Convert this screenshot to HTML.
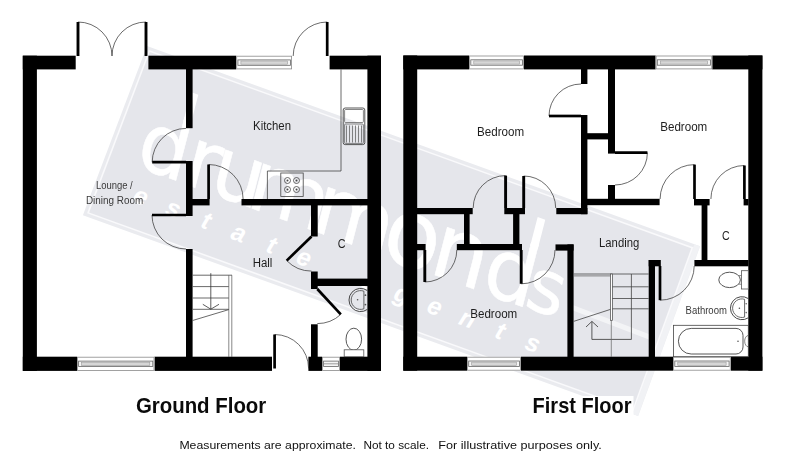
<!DOCTYPE html>
<html lang="en"><head><meta charset="utf-8"><title>Floor plan</title>
<style>
html,body{margin:0;padding:0;background:#fff;}
body{width:785px;height:463px;overflow:hidden;}
svg{display:block;font-family:"Liberation Sans",sans-serif;}
</style></head><body>
<svg width="785" height="463" viewBox="0 0 785 463">
<rect width="785" height="463" fill="#fff"/>
<polygon points="147.0,46.0 700.0,246.3 638.1,416.1 82.9,215.2" fill="#eaebef"/>
<polygon points="694.4,244.3 700.0,246.3 638.1,416.1 632.4,414.1" fill="#f1f2f5"/>
<polygon points="148.9,50.1 693.3,247.3 633.5,411.0 87.1,213.3" fill="#f9f9fb"/>
<polygon points="149.8,52.1 691.2,248.2 632.6,409.0 89.1,212.4" fill="#e5e6eb"/>
<g transform="translate(147.0,46.0) rotate(20.0)">
<g transform="translate(24.5,116.6) skewX(5.5)"><text font-family="DejaVu Sans, sans-serif" fill="#fff" stroke="#fff" stroke-width="0.5" stroke-linejoin="round"><tspan x="4.0" y="0.0" font-size="82">d</tspan><tspan x="53.9" y="0.0" font-size="84">r</tspan><tspan x="82.2" y="0.0" font-size="84">u</tspan><tspan x="121.9" y="0.0" font-size="84">m</tspan><tspan x="190.9" y="0.0" font-size="84">m</tspan><tspan x="265.1" y="1.9" font-size="94">o</tspan><tspan x="316.3" y="0.2" font-size="90">n</tspan><tspan x="371.9" y="0.2" font-size="84">d</tspan><tspan x="417.6" y="-1.1" font-size="74">s</tspan></text><rect x="41.0" y="-88.3" width="7.9" height="30" fill="#fff"/><rect x="409.7" y="-89.6" width="8.1" height="30" fill="#fff"/></g>
<g transform="rotate(0.55 47.9 150)">
<text x="45.5 80.4 115.3 150.2 185.1 220.0 254.9 289.8 324.7 359.6 394.5 429.4 464.3" y="151.5" font-size="25" font-style="italic" font-weight="bold" fill="#fff" text-anchor="middle">estate agents</text>
</g>
</g>
<polygon points="569,303.5 654,336 654,341.5 569,309" fill="#fff" opacity="0.55"/>
<rect x="22.8" y="55.7" width="14.1" height="315.2" fill="#000"/>
<rect x="367.4" y="55.7" width="13.6" height="315.2" fill="#000"/>
<rect x="22.8" y="55.7" width="52.9" height="13.7" fill="#000"/>
<rect x="148.4" y="55.7" width="87.9" height="13.7" fill="#000"/>
<rect x="329.6" y="55.7" width="51.4" height="13.7" fill="#000"/>
<rect x="22.8" y="356.7" width="54.2" height="14.2" fill="#000"/>
<rect x="154.4" y="356.7" width="117.6" height="14.2" fill="#000"/>
<rect x="308.4" y="356.7" width="13.6" height="14.2" fill="#000"/>
<rect x="340.0" y="356.7" width="41.0" height="14.2" fill="#000"/>
<rect x="236.3" y="55.7" width="55.7" height="13.7" fill="#fff"/>
<rect x="236.7" y="56.2" width="54.9" height="12.7" fill="#fff" stroke="#8a8a8a" stroke-width="0.8"/>
<rect x="237.9" y="59.9" width="52.5" height="5.4" fill="#f4f4f4" stroke="#666" stroke-width="0.8"/>
<rect x="240.9" y="61.0" width="46.5" height="3.2" fill="#d6d6d6" stroke="#999" stroke-width="0.6"/>
<rect x="77.0" y="356.7" width="77.4" height="14.2" fill="#fff"/>
<rect x="77.4" y="357.2" width="76.6" height="13.2" fill="#fff" stroke="#8a8a8a" stroke-width="0.8"/>
<rect x="78.6" y="361.1" width="74.2" height="5.4" fill="#f4f4f4" stroke="#666" stroke-width="0.8"/>
<rect x="81.6" y="362.2" width="68.2" height="3.2" fill="#d6d6d6" stroke="#999" stroke-width="0.6"/>
<rect x="322.0" y="356.7" width="18.0" height="14.2" fill="#fff"/>
<rect x="322.4" y="357.2" width="17.2" height="13.2" fill="#fff" stroke="#8a8a8a" stroke-width="0.8"/>
<rect x="323.6" y="361.1" width="14.8" height="5.4" fill="#f4f4f4" stroke="#666" stroke-width="0.8"/>
<line x1="324.0" y1="363.8" x2="338.0" y2="363.8" stroke="#888" stroke-width="0.8"/>
<rect x="186.0" y="69.0" width="6.6" height="59.2" fill="#000"/>
<rect x="186.0" y="161.0" width="6.6" height="55.0" fill="#000"/>
<rect x="186.0" y="249.0" width="6.6" height="108.0" fill="#000"/>
<rect x="192.0" y="199.0" width="17.6" height="6.4" fill="#000"/>
<rect x="241.5" y="199.0" width="126.5" height="6.4" fill="#000"/>
<rect x="311.0" y="205.0" width="6.7" height="31.5" fill="#000"/>
<rect x="311.0" y="271.5" width="6.7" height="17.5" fill="#000"/>
<rect x="311.0" y="324.3" width="6.7" height="32.7" fill="#000"/>
<rect x="311.0" y="278.6" width="57.0" height="7.4" fill="#000"/>
<path d="M78.0,22.0 A34,34 0 0 1 112.0,56.0" stroke="#3a3a3a" stroke-width="0.75" fill="none"/>
<line x1="78.0" y1="56.0" x2="78.0" y2="22.0" stroke="#000" stroke-width="2.9"/>
<path d="M146.0,22.0 A34,34 0 0 0 112.0,56.0" stroke="#3a3a3a" stroke-width="0.75" fill="none"/>
<line x1="146.0" y1="56.0" x2="146.0" y2="22.0" stroke="#000" stroke-width="2.9"/>
<path d="M327.2,22.0 A34,34 0 0 0 293.2,56.0" stroke="#3a3a3a" stroke-width="0.75" fill="none"/>
<line x1="327.2" y1="56.0" x2="327.2" y2="22.0" stroke="#000" stroke-width="2.6999999999999997"/>
<path d="M152.2,162.2 A33.8,33.8 0 0 1 186.0,128.4" stroke="#3a3a3a" stroke-width="0.75" fill="none"/>
<line x1="186.0" y1="162.2" x2="152.2" y2="162.2" stroke="#000" stroke-width="2.6999999999999997"/>
<path d="M152.0,215.0 A34,34 0 0 0 186.0,249.0" stroke="#3a3a3a" stroke-width="0.75" fill="none"/>
<line x1="186.0" y1="215.0" x2="152.0" y2="215.0" stroke="#000" stroke-width="2.6999999999999997"/>
<path d="M208.6,164.5 A34.5,34.5 0 0 1 243.1,199.0" stroke="#3a3a3a" stroke-width="0.75" fill="none"/>
<line x1="208.6" y1="199.0" x2="208.6" y2="164.5" stroke="#000" stroke-width="2.6999999999999997"/>
<path d="M286.7,260.6 A34.6,34.6 0 0 0 311.5,271.1" stroke="#3a3a3a" stroke-width="0.75" fill="none"/>
<line x1="311.5" y1="236.5" x2="286.7" y2="260.6" stroke="#000" stroke-width="2.6999999999999997"/>
<path d="M340.8,314.4 A34.6,34.6 0 0 1 317.3,323.6" stroke="#3a3a3a" stroke-width="0.75" fill="none"/>
<line x1="317.3" y1="289.0" x2="340.8" y2="314.4" stroke="#000" stroke-width="2.6999999999999997"/>
<path d="M274.6,334.5 A34,34 0 0 1 308.6,368.5" stroke="#3a3a3a" stroke-width="0.75" fill="none"/>
<line x1="274.6" y1="368.5" x2="274.6" y2="334.5" stroke="#000" stroke-width="2.6999999999999997"/>
<path d="M341,69.4 V171 H267.4 V199" stroke="#444" stroke-width="0.8" fill="none"/>
<rect x="343.2" y="108" width="21.6" height="36.6" rx="2" fill="none" stroke="#444" stroke-width="0.9"/>
<rect x="344.6" y="109.5" width="18.8" height="13" rx="1" fill="none" stroke="#555" stroke-width="0.7"/>
<line x1="346.5" y1="125.5" x2="346.5" y2="142.5" stroke="#555" stroke-width="0.7"/>
<line x1="349.5" y1="125.5" x2="349.5" y2="142.5" stroke="#555" stroke-width="0.7"/>
<line x1="352.5" y1="125.5" x2="352.5" y2="142.5" stroke="#555" stroke-width="0.7"/>
<line x1="355.5" y1="125.5" x2="355.5" y2="142.5" stroke="#555" stroke-width="0.7"/>
<line x1="358.5" y1="125.5" x2="358.5" y2="142.5" stroke="#555" stroke-width="0.7"/>
<line x1="361.5" y1="125.5" x2="361.5" y2="142.5" stroke="#555" stroke-width="0.7"/>
<rect x="344.6" y="124" width="18.8" height="19.4" rx="1" fill="none" stroke="#555" stroke-width="0.7"/>
<rect x="280.8" y="173" width="22.4" height="23.4" fill="none" stroke="#444" stroke-width="0.8"/>
<circle cx="287.5" cy="180.5" r="3" fill="none" stroke="#444" stroke-width="0.8"/><circle cx="287.5" cy="180.5" r="1" fill="#444"/>
<circle cx="296.5" cy="180.5" r="3" fill="none" stroke="#444" stroke-width="0.8"/><circle cx="296.5" cy="180.5" r="1" fill="#444"/>
<circle cx="287.5" cy="189.5" r="3" fill="none" stroke="#444" stroke-width="0.8"/><circle cx="287.5" cy="189.5" r="1" fill="#444"/>
<circle cx="296.5" cy="189.5" r="3" fill="none" stroke="#444" stroke-width="0.8"/><circle cx="296.5" cy="189.5" r="1" fill="#444"/>
<line x1="192.6" y1="275.2" x2="232.0" y2="275.2" stroke="#444" stroke-width="0.8"/>
<line x1="192.6" y1="286.6" x2="228.8" y2="286.6" stroke="#444" stroke-width="0.8"/>
<line x1="192.6" y1="298.0" x2="228.8" y2="298.0" stroke="#444" stroke-width="0.8"/>
<line x1="192.6" y1="309.3" x2="228.8" y2="309.3" stroke="#444" stroke-width="0.8"/>
<line x1="228.8" y1="275.2" x2="228.8" y2="357.0" stroke="#555" stroke-width="0.7"/>
<line x1="231.8" y1="275.2" x2="231.8" y2="357.0" stroke="#555" stroke-width="0.7"/>
<line x1="192.6" y1="320.5" x2="228.8" y2="309.6" stroke="#444" stroke-width="0.8"/>
<line x1="210.8" y1="273.2" x2="210.8" y2="309.2" stroke="#333" stroke-width="0.8"/>
<path d="M202.8,304.3 L210.8,309.2 L219,304.3" stroke="#333" stroke-width="0.8" fill="none"/>
<path d="M367.4,290.6 A11.6,11.6 0 1 0 367.4,309.4" stroke="#333" stroke-width="0.9" fill="none"/>
<path d="M363.9,291.2 A9.4,9.4 0 1 0 363.9,308.8 Z" stroke="#444" stroke-width="0.8" fill="none"/>
<circle cx="357.6" cy="299.8" r="0.8" fill="#555"/><circle cx="365.4" cy="295.2" r="0.9" fill="#555"/><circle cx="365.4" cy="304.6" r="0.9" fill="#555"/>
<ellipse cx="353.8" cy="339.2" rx="7.8" ry="11" fill="none" stroke="#444" stroke-width="0.9"/>
<rect x="344.2" y="349.8" width="19.6" height="6.9" fill="#fff" stroke="#555" stroke-width="0.8"/>
<rect x="403.3" y="55.5" width="13.9" height="315.2" fill="#000"/>
<rect x="748.3" y="55.5" width="14.1" height="315.2" fill="#000"/>
<rect x="403.3" y="55.5" width="65.9" height="13.9" fill="#000"/>
<rect x="524.0" y="55.5" width="131.7" height="13.9" fill="#000"/>
<rect x="712.2" y="55.5" width="50.2" height="13.9" fill="#000"/>
<rect x="403.3" y="356.7" width="63.8" height="14.0" fill="#000"/>
<rect x="521.0" y="356.7" width="152.2" height="14.0" fill="#000"/>
<rect x="730.7" y="356.7" width="31.7" height="14.0" fill="#000"/>
<rect x="469.2" y="55.5" width="54.8" height="13.9" fill="#fff"/>
<rect x="469.6" y="56.0" width="54.0" height="12.9" fill="#fff" stroke="#8a8a8a" stroke-width="0.8"/>
<rect x="470.8" y="59.8" width="51.6" height="5.4" fill="#f4f4f4" stroke="#666" stroke-width="0.8"/>
<rect x="473.8" y="60.9" width="45.6" height="3.2" fill="#d6d6d6" stroke="#999" stroke-width="0.6"/>
<rect x="655.7" y="55.5" width="56.5" height="13.9" fill="#fff"/>
<rect x="656.1" y="56.0" width="55.7" height="12.9" fill="#fff" stroke="#8a8a8a" stroke-width="0.8"/>
<rect x="657.3" y="59.8" width="53.3" height="5.4" fill="#f4f4f4" stroke="#666" stroke-width="0.8"/>
<rect x="660.3" y="60.9" width="47.3" height="3.2" fill="#d6d6d6" stroke="#999" stroke-width="0.6"/>
<rect x="467.1" y="356.7" width="53.9" height="14.0" fill="#fff"/>
<rect x="467.5" y="357.2" width="53.1" height="13.0" fill="#fff" stroke="#8a8a8a" stroke-width="0.8"/>
<rect x="468.7" y="361.0" width="50.7" height="5.4" fill="#f4f4f4" stroke="#666" stroke-width="0.8"/>
<rect x="471.7" y="362.1" width="44.7" height="3.2" fill="#d6d6d6" stroke="#999" stroke-width="0.6"/>
<rect x="673.2" y="356.7" width="57.5" height="14.0" fill="#fff"/>
<rect x="673.6" y="357.2" width="56.7" height="13.0" fill="#fff" stroke="#8a8a8a" stroke-width="0.8"/>
<rect x="674.8" y="361.0" width="54.3" height="5.4" fill="#f4f4f4" stroke="#666" stroke-width="0.8"/>
<rect x="677.8" y="362.1" width="48.3" height="3.2" fill="#d6d6d6" stroke="#999" stroke-width="0.6"/>
<rect x="581.0" y="69.0" width="6.4" height="15.0" fill="#000"/>
<rect x="581.0" y="115.0" width="6.4" height="99.2" fill="#000"/>
<rect x="587.0" y="133.2" width="21.5" height="6.2" fill="#000"/>
<rect x="608.0" y="69.0" width="7.0" height="84.6" fill="#000"/>
<rect x="608.0" y="185.0" width="7.0" height="14.0" fill="#000"/>
<rect x="587.0" y="198.8" width="72.6" height="6.4" fill="#000"/>
<rect x="417.0" y="208.0" width="55.7" height="6.2" fill="#000"/>
<rect x="504.3" y="208.0" width="20.7" height="6.2" fill="#000"/>
<rect x="556.3" y="208.0" width="31.1" height="6.2" fill="#000"/>
<rect x="464.0" y="214.0" width="5.6" height="36.0" fill="#000"/>
<rect x="513.1" y="214.0" width="6.3" height="36.0" fill="#000"/>
<rect x="417.0" y="244.0" width="8.6" height="6.2" fill="#000"/>
<rect x="456.8" y="244.0" width="65.2" height="6.2" fill="#000"/>
<rect x="555.5" y="244.4" width="18.1" height="6.2" fill="#000"/>
<rect x="567.4" y="244.4" width="6.2" height="112.6" fill="#000"/>
<rect x="694.0" y="199.0" width="15.6" height="6.4" fill="#000"/>
<rect x="743.6" y="199.0" width="4.9" height="6.4" fill="#000"/>
<rect x="701.6" y="205.0" width="5.8" height="61.0" fill="#000"/>
<rect x="694.4" y="260.0" width="54.1" height="6.3" fill="#000"/>
<rect x="648.7" y="260.0" width="6.3" height="97.0" fill="#000"/>
<rect x="648.7" y="260.0" width="12.1" height="6.3" fill="#000"/>
<path d="M549.0,116.0 A32,32 0 0 1 581.0,84.0" stroke="#3a3a3a" stroke-width="0.75" fill="none"/>
<line x1="581.0" y1="116.0" x2="549.0" y2="116.0" stroke="#000" stroke-width="2.6999999999999997"/>
<path d="M647.4,152.6 A32.4,32.4 0 0 1 615.0,185.0" stroke="#3a3a3a" stroke-width="0.75" fill="none"/>
<line x1="615.0" y1="152.6" x2="647.4" y2="152.6" stroke="#000" stroke-width="2.6999999999999997"/>
<path d="M523.7,176.0 A32,32 0 0 1 555.7,208.0" stroke="#3a3a3a" stroke-width="0.75" fill="none"/>
<line x1="523.7" y1="208.0" x2="523.7" y2="176.0" stroke="#000" stroke-width="2.9"/>
<path d="M505.6,175.6 A32.4,32.4 0 0 0 473.2,208.0" stroke="#3a3a3a" stroke-width="0.75" fill="none"/>
<line x1="505.6" y1="208.0" x2="505.6" y2="175.6" stroke="#000" stroke-width="2.9"/>
<path d="M424.8,282.0 A32,32 0 0 0 456.8,250.0" stroke="#3a3a3a" stroke-width="0.75" fill="none"/>
<line x1="424.8" y1="250.0" x2="424.8" y2="282.0" stroke="#000" stroke-width="2.9"/>
<path d="M521.2,283.8 A33.8,33.8 0 0 0 555.0,250.0" stroke="#3a3a3a" stroke-width="0.75" fill="none"/>
<line x1="521.2" y1="250.0" x2="521.2" y2="283.8" stroke="#000" stroke-width="2.9"/>
<path d="M694.5,164.6 A34.4,34.4 0 0 0 660.1,199.0" stroke="#3a3a3a" stroke-width="0.75" fill="none"/>
<line x1="694.5" y1="199.0" x2="694.5" y2="164.6" stroke="#000" stroke-width="2.6999999999999997"/>
<path d="M744.4,165.5 A33.5,33.5 0 0 0 710.9,199.0" stroke="#3a3a3a" stroke-width="0.75" fill="none"/>
<line x1="744.4" y1="199.0" x2="744.4" y2="165.5" stroke="#000" stroke-width="2.6999999999999997"/>
<path d="M660.0,300.2 A34.2,34.2 0 0 0 694.2,266.0" stroke="#3a3a3a" stroke-width="0.75" fill="none"/>
<line x1="660.0" y1="266.0" x2="660.0" y2="300.2" stroke="#000" stroke-width="2.6999999999999997"/>
<line x1="573.6" y1="274.0" x2="648.7" y2="274.0" stroke="#444" stroke-width="0.8"/>
<line x1="573.6" y1="275.9" x2="612.0" y2="275.9" stroke="#555" stroke-width="0.7"/>
<rect x="610.4" y="274" width="2" height="46.3" fill="#fff" stroke="#444" stroke-width="0.7"/>
<line x1="612.4" y1="286.8" x2="648.7" y2="286.8" stroke="#444" stroke-width="0.8"/>
<line x1="612.4" y1="298.5" x2="648.7" y2="298.5" stroke="#444" stroke-width="0.8"/>
<line x1="612.4" y1="308.8" x2="648.7" y2="308.8" stroke="#444" stroke-width="0.8"/>
<line x1="631.4" y1="274.0" x2="631.4" y2="339.4" stroke="#444" stroke-width="0.8"/>
<path d="M631.4,339.4 H591.9 V321.6" stroke="#333" stroke-width="0.8" fill="none"/>
<path d="M586,327 L591.9,321.4 L598,327" stroke="#333" stroke-width="0.8" fill="none"/>
<line x1="573.6" y1="321.4" x2="610.4" y2="309.4" stroke="#444" stroke-width="0.8"/>
<line x1="611.3" y1="320.0" x2="611.3" y2="357.0" stroke="#666" stroke-width="0.7"/>
<rect x="673.6" y="325.3" width="74.7" height="31.4" fill="none" stroke="#444" stroke-width="0.8"/>
<path d="M691.2,328.4 H736 A7,7 0 0 1 743,335.4 V347 A7,7 0 0 1 736,354 H691.2 A12.8,12.8 0 0 1 691.2,328.4 Z" stroke="#444" stroke-width="0.9" fill="none"/>
<circle cx="738" cy="341.2" r="0.8" fill="#555"/>
<path d="M748.3,335.5 A3.6,5.6 0 0 0 748.3,346.8" stroke="#555" stroke-width="0.7" fill="none"/>
<ellipse cx="729.6" cy="279.9" rx="10.8" ry="7.7" fill="none" stroke="#444" stroke-width="0.9"/>
<rect x="741.4" y="270.7" width="6.9" height="18.3" fill="#fff" stroke="#555" stroke-width="0.8"/>
<line x1="738.6" y1="275.6" x2="741.4" y2="275.6" stroke="#555" stroke-width="0.7"/>
<line x1="738.6" y1="284.2" x2="741.4" y2="284.2" stroke="#555" stroke-width="0.7"/>
<path d="M748.3,298.6 A11.5,11.5 0 1 0 748.3,317.8" stroke="#333" stroke-width="0.9" fill="none"/>
<path d="M744.6,299.3 A9.3,9.3 0 1 0 744.6,317.1 Z" stroke="#444" stroke-width="0.8" fill="none"/>
<circle cx="739.4" cy="308.2" r="0.8" fill="#555"/><circle cx="746.2" cy="303.8" r="0.8" fill="#666"/><circle cx="746.2" cy="312.6" r="0.8" fill="#666"/>
<rect x="526.0" y="396.0" width="107.5" height="21.0" fill="#fff"/>
<g style="filter:grayscale(1)">
<text x="253.1" y="130.3" font-size="12" font-weight="normal" fill="#1e1e1e" text-anchor="start" textLength="37.9" lengthAdjust="spacingAndGlyphs">Kitchen</text>
<text x="252.7" y="266.6" font-size="12" font-weight="normal" fill="#1e1e1e" text-anchor="start" textLength="19.7" lengthAdjust="spacingAndGlyphs">Hall</text>
<text x="337.8" y="247.9" font-size="12" font-weight="normal" fill="#1e1e1e" text-anchor="start" textLength="7.8" lengthAdjust="spacingAndGlyphs">C</text>
<text x="477.1" y="135.7" font-size="12" font-weight="normal" fill="#1e1e1e" text-anchor="start" textLength="47.1" lengthAdjust="spacingAndGlyphs">Bedroom</text>
<text x="660.2" y="130.9" font-size="12" font-weight="normal" fill="#1e1e1e" text-anchor="start" textLength="47.1" lengthAdjust="spacingAndGlyphs">Bedroom</text>
<text x="470.2" y="317.6" font-size="12" font-weight="normal" fill="#1e1e1e" text-anchor="start" textLength="47.1" lengthAdjust="spacingAndGlyphs">Bedroom</text>
<text x="599.0" y="246.6" font-size="12" font-weight="normal" fill="#1e1e1e" text-anchor="start" textLength="40.3" lengthAdjust="spacingAndGlyphs">Landing</text>
<text x="722.0" y="239.8" font-size="12" font-weight="normal" fill="#1e1e1e" text-anchor="start" textLength="7.7" lengthAdjust="spacingAndGlyphs">C</text>
<text x="95.9" y="188.5" font-size="10.2" font-weight="normal" fill="#3a3a3a" text-anchor="start" textLength="36.8" lengthAdjust="spacingAndGlyphs">Lounge /</text>
<text x="85.9" y="203.9" font-size="10.2" font-weight="normal" fill="#3a3a3a" text-anchor="start" textLength="57.3" lengthAdjust="spacingAndGlyphs">Dining Room</text>
<text x="685.6" y="314.3" font-size="10.2" font-weight="normal" fill="#3a3a3a" text-anchor="start" textLength="41.3" lengthAdjust="spacingAndGlyphs">Bathroom</text>
<text x="135.9" y="412.6" font-size="21.6" font-weight="bold" fill="#0a0a0a" text-anchor="start" textLength="130.4" lengthAdjust="spacingAndGlyphs">Ground Floor</text>
<text x="532.6" y="412.5" font-size="21.6" font-weight="bold" fill="#0a0a0a" text-anchor="start" textLength="98.9" lengthAdjust="spacingAndGlyphs">First Floor</text>
<text x="179.4" y="449.0" font-size="11.2" font-weight="normal" fill="#111" text-anchor="start" textLength="176.6" lengthAdjust="spacingAndGlyphs">Measurements are approximate.</text>
<text x="363.4" y="449.0" font-size="11.2" font-weight="normal" fill="#111" text-anchor="start" textLength="65.6" lengthAdjust="spacingAndGlyphs">Not to scale.</text>
<text x="438.3" y="449.0" font-size="11.2" font-weight="normal" fill="#111" text-anchor="start" textLength="163.5" lengthAdjust="spacingAndGlyphs">For illustrative purposes only.</text>
</g>
</svg>
</body></html>
